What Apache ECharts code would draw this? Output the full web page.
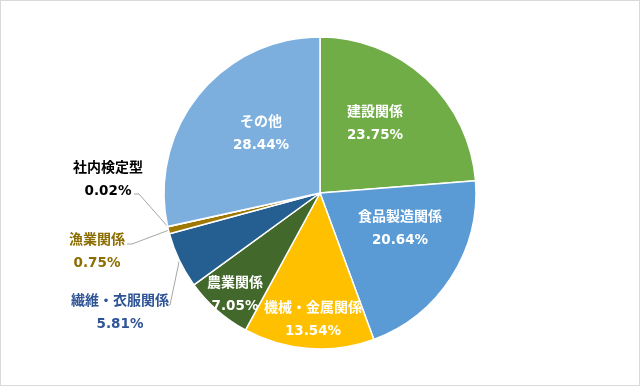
<!DOCTYPE html>
<html>
<head>
<meta charset="utf-8">
<script src="https://cdn.jsdelivr.net/npm/echarts@6/dist/echarts.min.js"></script>
<style>
  html, body { margin: 0; padding: 0; background: #fff; }
  #frame { position: absolute; left: 0; top: 0; width: 638px; height: 384px; border: 1px solid #D9D9D9; border-right-width: 2px; border-bottom-width: 2px; }
  #chart { position: absolute; left: 0; top: 0; width: 640px; height: 386px; }
</style>
</head>
<body>
<div id="frame"></div>
<div id="chart"></div>
<script>
// Data
const categories = ['建設関係', '食品製造関係', '機械・金属関係', '農業関係', '繊維・衣服関係', '漁業関係', '社内検定型', 'その他'];
const shares = [23.75, 20.64, 13.54, 7.05, 5.81, 0.75, 0.02, 28.44];

// Styles
const sliceColors = ['#70AD47', '#5B9BD5', '#FFC000', '#43682B', '#255E91', '#9E7800', '#7F7F7F', '#7CAFDD'];
const labelColors = ['#FFFFFF', '#FFFFFF', '#FFFFFF', '#FFFFFF', '#2F5597', '#8C6D00', '#000000', '#FFFFFF'];
const outside = [false, false, false, false, true, true, true, false];
// label block centres (layout)
const labelPos = [[375, 123], [400, 228], [313, 319], [235, 294], [120, 312], [97, 251], [108, 179], [261, 133]];
// leader line bend & end points for outside labels (layout)
const leaderPts = {
  4: [[170, 305], [166, 305]],
  5: [[132, 244], [127, 244]],
  6: [[139, 194], [134, 194]]
};

const data = categories.map((c, i) => ({
  name: c,
  value: shares[i],
  itemStyle: { color: sliceColors[i] },
  label: {
    position: outside[i] ? 'outside' : 'inside',
    color: labelColors[i],
    rich: {
      n: { color: labelColors[i], fontFamily: '"Noto Sans CJK JP", sans-serif', fontWeight: 'bold', fontSize: 14, lineHeight: 24 },
      p: { color: labelColors[i], fontFamily: '"DejaVu Sans", "Noto Sans", sans-serif', fontWeight: 'bold', fontSize: 13.5, lineHeight: 24 }
    }
  },
  labelLine: { show: outside[i] }
}));

const chart = echarts.init(document.getElementById('chart'), null, { renderer: 'canvas' });
chart.setOption({
  animation: false,
  series: [{
    type: 'pie',
    center: [320, 193],
    radius: 156,
    startAngle: 90,
    clockwise: true,
    avoidLabelOverlap: false,
    itemStyle: { borderColor: '#FFFFFF', borderWidth: 1.5 },
    label: {
      show: true,
      formatter: p => '{n|' + p.name + '}\n{p|' + p.value.toFixed(2) + '%}',
      fontFamily: '"Noto Sans CJK JP", sans-serif',
      fontWeight: 'bold',
      fontSize: 14,
      lineHeight: 24,
      align: 'center'
    },
    labelLine: {
      lineStyle: { color: '#A6A6A6', width: 1 },
      length: 10,
      length2: 10
    },
    labelLayout: function (params) {
      const i = params.dataIndex;
      const res = {
        x: labelPos[i][0],
        y: labelPos[i][1],
        align: 'center',
        verticalAlign: 'middle'
      };
      if (leaderPts[i] && params.labelLinePoints) {
        const p0 = params.labelLinePoints[0];
        res.labelLinePoints = [p0, leaderPts[i][0], leaderPts[i][1]];
      }
      return res;
    },
    data: data
  }]
});
</script>
</body>
</html>
